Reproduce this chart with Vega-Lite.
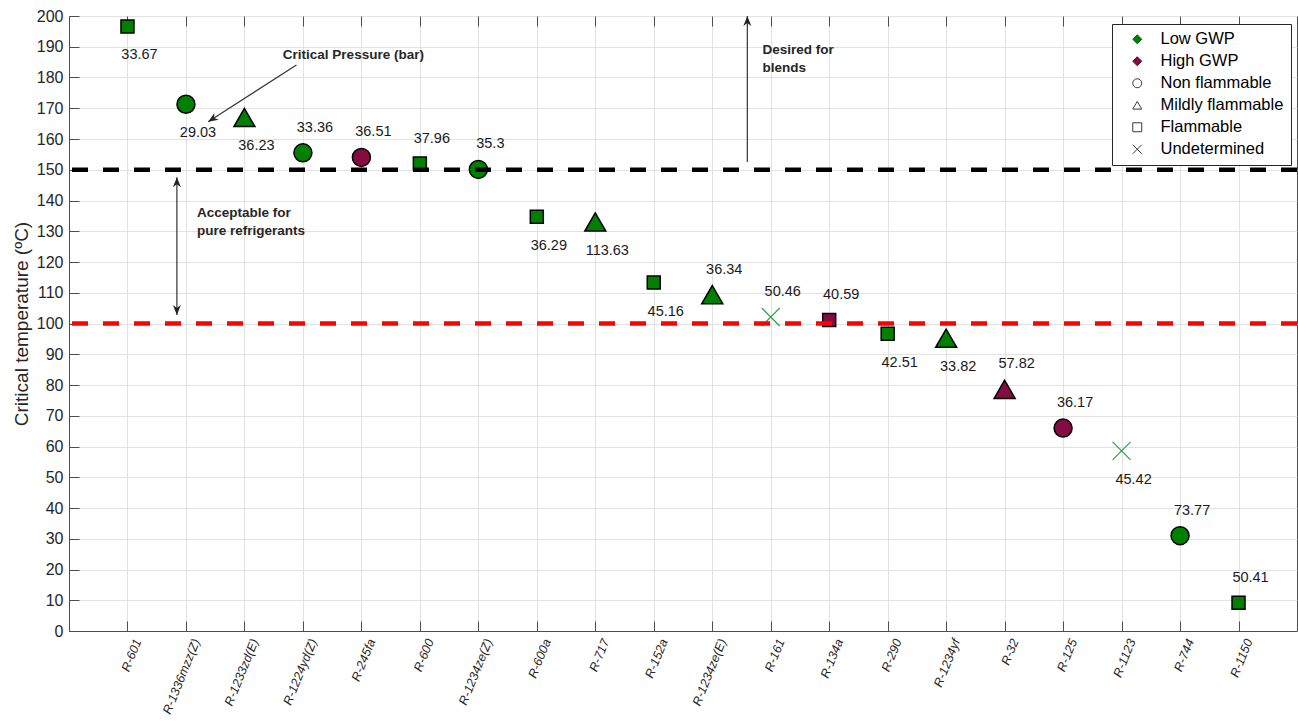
{
  "$schema": "https://vega.github.io/schema/vega-lite/v6.json",
  "width": 1228,
  "height": 615,
  "autosize": {"type": "none"},
  "padding": {"left": 69, "top": 16, "right": 1, "bottom": 96},
  "background": "white",
  "config": {
    "font": "Liberation Sans",
    "view": {"stroke": "#4d4d4d", "strokeWidth": 1},
    "axis": {
      "labelFont": "Liberation Sans",
      "titleFont": "Liberation Sans",
      "labelColor": "#262626",
      "titleColor": "#262626",
      "gridColor": "#e2e2e2",
      "gridWidth": 1,
      "domainColor": "#4d4d4d",
      "tickColor": "#4d4d4d"
    }
  },
  "datasets": {
    "refrigerants": [
      {"name": "R-601", "tc": 196.6, "pc": 33.67, "gwp": "Low GWP", "flam": "Flammable"},
      {"name": "R-1336mzz(Z)", "tc": 171.3, "pc": 29.03, "gwp": "Low GWP", "flam": "Non flammable"},
      {"name": "R-1233zd(E)", "tc": 167.0, "pc": 36.23, "gwp": "Low GWP", "flam": "Mildly flammable"},
      {"name": "R-1224yd(Z)", "tc": 155.5, "pc": 33.36, "gwp": "Low GWP", "flam": "Non flammable"},
      {"name": "R-245fa", "tc": 154.0, "pc": 36.51, "gwp": "High GWP", "flam": "Non flammable"},
      {"name": "R-600", "tc": 152.0, "pc": 37.96, "gwp": "Low GWP", "flam": "Flammable"},
      {"name": "R-1234ze(Z)", "tc": 150.1, "pc": 35.3, "gwp": "Low GWP", "flam": "Non flammable"},
      {"name": "R-600a", "tc": 134.7, "pc": 36.29, "gwp": "Low GWP", "flam": "Flammable"},
      {"name": "R-717", "tc": 133.0, "pc": 113.63, "gwp": "Low GWP", "flam": "Mildly flammable"},
      {"name": "R-152a", "tc": 113.3, "pc": 45.16, "gwp": "Low GWP", "flam": "Flammable"},
      {"name": "R-1234ze(E)", "tc": 109.4, "pc": 36.34, "gwp": "Low GWP", "flam": "Mildly flammable"},
      {"name": "R-161", "tc": 102.1, "pc": 50.46, "gwp": "Low GWP", "flam": "Undetermined"},
      {"name": "R-134a", "tc": 101.1, "pc": 40.59, "gwp": "High GWP", "flam": "Flammable"},
      {"name": "R-290", "tc": 96.7, "pc": 42.51, "gwp": "Low GWP", "flam": "Flammable"},
      {"name": "R-1234yf", "tc": 95.2, "pc": 33.82, "gwp": "Low GWP", "flam": "Mildly flammable"},
      {"name": "R-32", "tc": 78.6, "pc": 57.82, "gwp": "High GWP", "flam": "Mildly flammable"},
      {"name": "R-125", "tc": 66.0, "pc": 36.17, "gwp": "High GWP", "flam": "Non flammable"},
      {"name": "R-1123", "tc": 58.6, "pc": 45.42, "gwp": "Low GWP", "flam": "Undetermined"},
      {"name": "R-744", "tc": 31.0, "pc": 73.77, "gwp": "Low GWP", "flam": "Non flammable"},
      {"name": "R-1150", "tc": 9.2, "pc": 50.41, "gwp": "Low GWP", "flam": "Flammable"}
    ],
    "limits": [
      {"limit": "blends", "tc": 150},
      {"limit": "pure", "tc": 100}
    ],
    "arrows": [
      {"note": "desired", "x": 11.6, "y": 152.5, "x2": 11.6, "y2": 200},
      {"note": "acceptable", "x": 1.845, "y": 102.8, "x2": 1.845, "y2": 147.6},
      {"note": "critical", "x": 3.89, "y": 184.1, "x2": 2.38, "y2": 165.6}
    ],
    "notes": [
      {"text": "Critical Pressure (bar)", "x": 3.657, "y": 189.6},
      {"text": "Desired for\nblends", "x": 11.86, "y": 191.2},
      {"text": "Acceptable for\npure refrigerants", "x": 2.19, "y": 138.2}
    ]
  },
  "layer": [
    {
      "encoding": {
        "y": {
          "field": "tc",
          "type": "quantitative",
          "scale": {"domain": [0, 200], "nice": false, "zero": true},
          "axis": {
            "title": "Critical temperature (ºC)",
            "values": [0, 10, 20, 30, 40, 50, 60, 70, 80, 90, 100, 110, 120, 130, 140, 150, 160, 170, 180, 190, 200],
            "labelOverlap": false,
            "labelFontSize": 16,
            "titleFontSize": 19,
            "titleFontWeight": "normal",
            "titlePadding": 5,
            "tickSize": -10,
            "labelPadding": 16
          }
        }
      },
      "layer": [
        {
          "data": {"name": "refrigerants"},
          "mark": {"type": "point", "filled": true, "opacity": 1},
          "encoding": {
            "x": {
              "field": "name",
              "type": "nominal",
              "sort": null,
              "scale": {"type": "point", "padding": 1},
              "axis": {
                "title": null,
                "labelAngle": -68,
                "labelFontSize": 12.5,
                "labelFontStyle": "italic",
                "labelColor": "#262626",
                "labelOverlap": false,
                "labelOffset": 10,
                "grid": true,
                "tickSize": -10,
                "labelPadding": 18
              }
            },
            "shape": {
              "field": "flam",
              "type": "nominal",
              "scale": {
                "domain": ["Low GWP", "High GWP", "Non flammable", "Mildly flammable", "Flammable", "Undetermined"],
                "range": ["diamond", "diamond", "circle", "triangle-up", "square", "M-1,-1L1,1M-1,1L1,-1"]
              },
              "legend": {
                "title": null,
                "orient": "none",
                "legendX": 1043,
                "legendY": 8,
                "strokeColor": "#262626",
                "fillColor": "white",
                "padding": 7,
                "labelFont": "Liberation Sans",
                "labelFontSize": 16.5,
                "labelColor": "black",
                "labelOffset": 15,
                "symbolOffset": 10,
                "rowPadding": 5,
                "symbolSize": 80,
                "symbolStrokeWidth": 1,
                "symbolFillColor": {"expr": "datum.value === 'Low GWP' ? '#008000' : datum.value === 'High GWP' ? '#850c40' : 'transparent'"},
                "symbolStrokeColor": {"expr": "datum.value === 'Low GWP' ? '#006000' : datum.value === 'High GWP' ? '#5a0a2a' : '#3a3a3a'"}
              }
            },
            "fill": {
              "field": "gwp",
              "type": "nominal",
              "scale": {"domain": ["Low GWP", "High GWP"], "range": ["#008000", "#850c40"]},
              "legend": null
            },
            "stroke": {
              "condition": {"test": "datum.flam === 'Undetermined'", "value": "#2ca24a"},
              "value": "black"
            },
            "strokeWidth": {
              "condition": {"test": "datum.flam === 'Undetermined'", "value": 1.2},
              "value": 1.5
            },
            "size": {
              "condition": [
                {"test": "datum.flam === 'Mildly flammable'", "value": 441},
                {"test": "datum.flam === 'Flammable'", "value": 169}
              ],
              "value": 324
            }
          }
        },
        {
          "data": {"name": "limits"},
          "transform": [{"filter": "datum.limit === 'blends'"}],
          "mark": {"type": "rule", "color": "black", "strokeWidth": 4.5, "strokeDash": [16, 15]},
          "encoding": {}
        },
        {
          "data": {"name": "limits"},
          "transform": [{"filter": "datum.limit === 'pure'"}],
          "mark": {"type": "rule", "color": "#ff0000", "strokeWidth": 4.5, "strokeDash": [16, 15]},
          "encoding": {}
        },
        {
          "data": {"name": "refrigerants"},
          "transform": [{"filter": {"field": "name", "oneOf": ["R-601", "R-1336mzz(Z)", "R-1233zd(E)", "R-600a", "R-717", "R-152a", "R-290", "R-1234yf", "R-1123"]}}],
          "mark": {"type": "text", "dx": 12, "dy": 29, "fontSize": 14.5, "color": "#1a1a1a", "baseline": "middle", "align": "center"},
          "encoding": {
            "x": {"field": "name", "type": "nominal", "sort": null},
            "text": {"field": "pc", "type": "nominal"}
          }
        },
        {
          "data": {"name": "refrigerants"},
          "transform": [{"filter": {"field": "name", "oneOf": ["R-1224yd(Z)", "R-245fa", "R-600", "R-1234ze(Z)", "R-1234ze(E)", "R-161", "R-134a", "R-32", "R-125", "R-744", "R-1150"]}}],
          "mark": {"type": "text", "dx": 12, "dy": -25, "fontSize": 14.5, "color": "#1a1a1a", "baseline": "middle", "align": "center"},
          "encoding": {
            "x": {"field": "name", "type": "nominal", "sort": null},
            "text": {"field": "pc", "type": "nominal"}
          }
        }
      ]
    },
    {
      "layer": [
        {
          "data": {"name": "arrows"},
          "mark": {"type": "rule", "color": "#333333", "strokeWidth": 1.2},
          "encoding": {
            "x": {
              "field": "x",
              "type": "quantitative",
              "scale": {"domain": [0, 21], "nice": false, "zero": false},
              "axis": {
                "orient": "top",
                "values": [1, 2, 3, 4, 5, 6, 7, 8, 9, 10, 11, 12, 13, 14, 15, 16, 17, 18, 19, 20],
                "labels": false,
                "domain": false,
                "grid": false,
                "ticks": true,
                "tickSize": -10,
                "title": null
              }
            },
            "y": {"field": "y", "type": "quantitative", "scale": {"domain": [0, 200], "nice": false}, "axis": null},
            "x2": {"field": "x2"},
            "y2": {"field": "y2"}
          }
        },
        {
          "data": {"name": "arrows"},
          "transform": [{"filter": "datum.note === 'desired' || datum.note === 'acceptable'"}],
          "mark": {"type": "point", "shape": "M0,0L-0.8,2L0,1.4L0.8,2Z", "filled": true, "color": "#222222", "size": 100, "opacity": 1, "angle": 0},
          "encoding": {
            "x": {"field": "x2", "type": "quantitative", "axis": null},
            "y": {"field": "y2", "type": "quantitative", "axis": null}
          }
        },
        {
          "data": {"name": "arrows"},
          "transform": [{"filter": "datum.note === 'acceptable'"}],
          "mark": {"type": "point", "shape": "M0,0L-0.8,2L0,1.4L0.8,2Z", "filled": true, "color": "#222222", "size": 100, "opacity": 1, "angle": 180},
          "encoding": {
            "x": {"field": "x", "type": "quantitative", "axis": null},
            "y": {"field": "y", "type": "quantitative", "axis": null}
          }
        },
        {
          "data": {"name": "arrows"},
          "transform": [{"filter": "datum.note === 'critical'"}],
          "mark": {"type": "point", "shape": "M0,0L-0.8,2L0,1.4L0.8,2Z", "filled": true, "color": "#222222", "size": 100, "opacity": 1, "angle": 237.3},
          "encoding": {
            "x": {"field": "x2", "type": "quantitative", "axis": null},
            "y": {"field": "y2", "type": "quantitative", "axis": null}
          }
        },
        {
          "data": {"name": "notes"},
          "mark": {"type": "text", "align": "left", "baseline": "top", "fontSize": 13.5, "fontWeight": "bold", "color": "#262626", "lineBreak": "\n", "lineHeight": 18},
          "encoding": {
            "x": {"field": "x", "type": "quantitative", "axis": null},
            "y": {"field": "y", "type": "quantitative", "axis": null},
            "text": {"field": "text"}
          }
        }
      ],
      "resolve": {"axis": {"x": "independent", "y": "independent"}}
    }
  ],
  "resolve": {"scale": {"x": "independent"}, "axis": {"x": "independent", "y": "independent"}}
}
